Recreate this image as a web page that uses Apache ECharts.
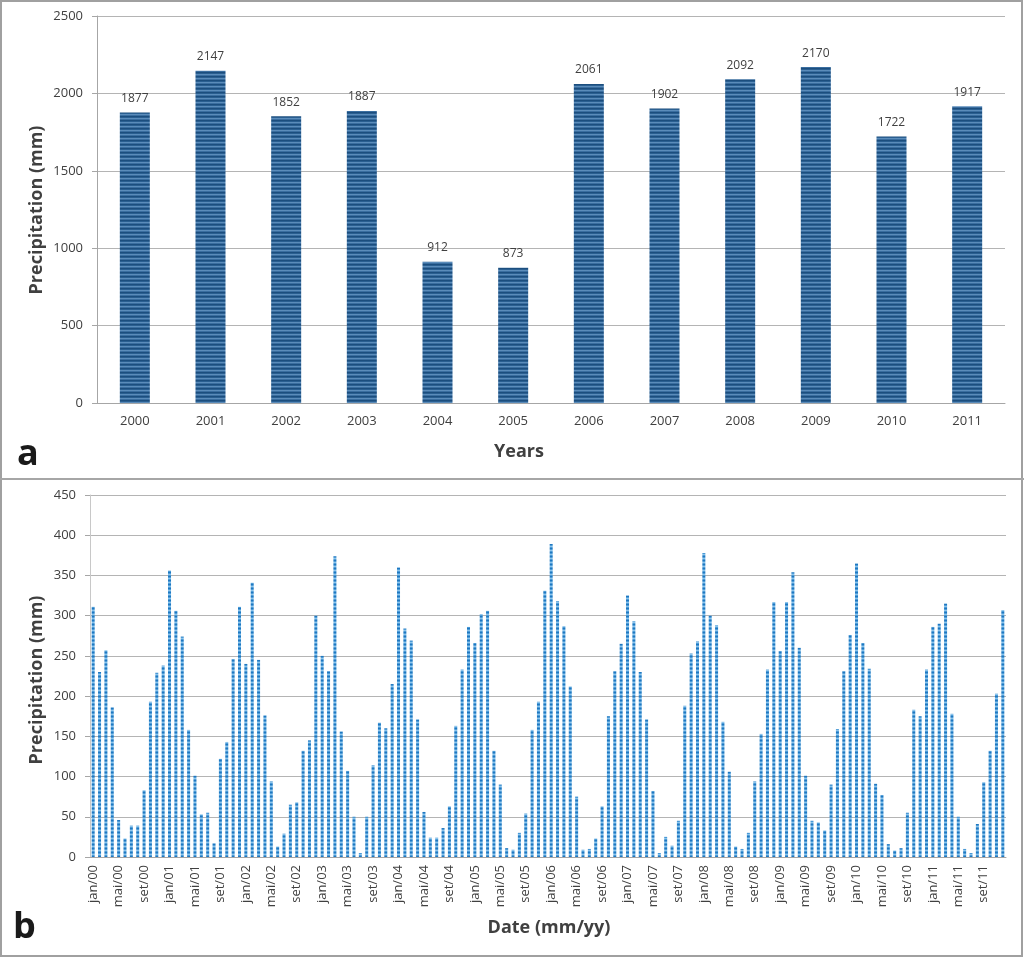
<!DOCTYPE html>
<html>
<head>
<meta charset="utf-8">
<script src="https://cdn.jsdelivr.net/npm/echarts@6/dist/echarts.min.js"></script>
<style>
  html, body { margin: 0; padding: 0; background: #fff; }
  #chart { width: 1024px; height: 958px; }
</style>
</head>
<body>
<div id="chart"></div>
<script>
  // annual totals (a)
  var years = ['2000','2001','2002','2003','2004','2005','2006','2007','2008','2009','2010','2011'];
  var annual = [1877, 2147, 1852, 1887, 912, 873, 2061, 1902, 2092, 2170, 1722, 1917];

  // monthly totals (b), jan/00 .. dez/11
  var monthNames = ['jan','fev','mar','abr','mai','jun','jul','ago','set','out','nov','dez'];
  var m2000 = [311, 230, 257, 186, 46, 23, 39, 39, 83, 193, 229, 238];
  var m2001 = [356, 306, 274, 158, 101, 53, 55, 17, 122, 143, 246, 311];
  var m2002 = [240, 341, 245, 176, 94, 13, 29, 65, 68, 132, 145, 300];
  var m2003 = [250, 231, 374, 156, 107, 50, 5, 50, 114, 167, 160, 215];
  var m2004 = [360, 284, 269, 171, 56, 24, 24, 36, 63, 163, 233, 286];
  var m2005 = [266, 302, 306, 132, 90, 11, 9, 30, 54, 158, 193, 331];
  var m2006 = [389, 318, 287, 212, 75, 9, 10, 23, 63, 175, 231, 265];
  var m2007 = [325, 293, 230, 171, 82, 5, 25, 14, 45, 188, 253, 268];
  var m2008 = [378, 300, 288, 168, 106, 13, 10, 30, 94, 153, 233, 317];
  var m2009 = [256, 317, 354, 260, 101, 45, 43, 33, 90, 159, 231, 276];
  var m2010 = [365, 266, 234, 91, 77, 16, 8, 11, 55, 183, 175, 233];
  var m2011 = [286, 290, 315, 178, 50, 10, 5, 41, 93, 132, 203, 307];

  var yearTicks = ['00','01','02','03','04','05','06','07','08','09','10','11'];
  var monthly = [m2000, m2001, m2002, m2003, m2004, m2005, m2006, m2007, m2008, m2009, m2010, m2011];

  var months = [];
  var monthVals = [];
  for (var i = 0; i < yearTicks.length; i++) {
    for (var j = 0; j < 12; j++) {
      months.push(monthNames[j] + '/' + yearTicks[i]);
      monthVals.push(monthly[i][j]);
    }
  }

  // striped fills
  function stripes(w, h, rows) {
    var c = document.createElement('canvas');
    c.width = w; c.height = h;
    var ctx = c.getContext('2d');
    for (var r = 0; r < rows.length; r++) {
      ctx.fillStyle = rows[r];
      ctx.fillRect(0, r, w, 1);
    }
    return { image: c, repeat: 'repeat' };
  }
  var darkFill = stripes(4, 4, ['#1c4e7e', '#2a5f91', '#5b8cba', '#3a6ea0']);
  var lightFill = stripes(4, 4, ['#1f77c0', '#4a9ad6', '#8cc4ec', '#4a9ad6']);

  var font = 'Open Sans, Noto Sans, sans-serif';
  var gridColor = '#b4b4b4';
  var plain = function (v) { return String(v); };

  var chart = echarts.init(document.getElementById('chart'));
  var option = {
    backgroundColor: '#fff',
    animation: false,
    grid: [
      { left: 97, right: 19, top: 16, height: 387 },
      { left: 90, right: 18, top: 495, height: 362 }
    ],
    xAxis: [{
      gridIndex: 0,
      type: 'category',
      data: years,
      axisLine: { lineStyle: { color: '#a6a6a6' } },
      axisTick: { show: false },
      axisLabel: { color: '#404040', fontSize: 13, fontFamily: font, margin: 12 }
    }, {
      gridIndex: 1,
      type: 'category',
      data: months,
      axisLine: { lineStyle: { color: '#a6a6a6' } },
      axisTick: { show: false },
      axisLabel: { color: '#404040', fontSize: 13, fontFamily: font, rotate: 90, interval: 3, margin: 8 }
    }],
    yAxis: [{
      gridIndex: 0,
      type: 'value',
      min: 0, max: 2500, interval: 500,
      axisLine: { show: true, lineStyle: { color: '#a6a6a6' } },
      axisTick: { show: true, length: 5, lineStyle: { color: '#a6a6a6' } },
      splitLine: { lineStyle: { color: gridColor } },
      axisLabel: { color: '#404040', fontSize: 13, fontFamily: font, margin: 14, formatter: plain }
    }, {
      gridIndex: 1,
      type: 'value',
      min: 0, max: 450, interval: 50,
      axisLine: { show: true, lineStyle: { color: '#c8c8c8' } },
      axisTick: { show: true, length: 5, lineStyle: { color: '#a6a6a6' } },
      splitLine: { lineStyle: { color: gridColor } },
      axisLabel: { color: '#404040', fontSize: 13, fontFamily: font, margin: 14, formatter: plain }
    }],
    series: [{
      type: 'bar',
      xAxisIndex: 0, yAxisIndex: 0,
      data: annual,
      barWidth: 30,
      itemStyle: { color: darkFill },
      label: { show: true, position: 'top', distance: 8, color: '#404040', fontSize: 12, fontFamily: font }
    }, {
      type: 'bar',
      xAxisIndex: 1, yAxisIndex: 1,
      data: monthVals,
      barWidth: 3,
      itemStyle: { color: lightFill }
    }],
    graphic: [
      { type: 'rect', shape: { x: 1, y: 1, width: 1021, height: 955 }, style: { fill: 'none', stroke: '#a0a0a0', lineWidth: 2 } },
      { type: 'rect', shape: { x: 0, y: 478, width: 1024, height: 2 }, style: { fill: '#a6a6a6' } },
      { type: 'text', x: 37, y: 210, rotation: Math.PI / 2, style: { text: 'Precipitation (mm)', font: 'bold 18px ' + font, fill: '#404040', textAlign: 'center', textVerticalAlign: 'middle' } },
      { type: 'text', x: 37, y: 680, rotation: Math.PI / 2, style: { text: 'Precipitation (mm)', font: 'bold 18px ' + font, fill: '#404040', textAlign: 'center', textVerticalAlign: 'middle' } },
      { type: 'text', x: 519, y: 452, style: { text: 'Years', font: 'bold 18px ' + font, fill: '#404040', textAlign: 'center', textVerticalAlign: 'middle' } },
      { type: 'text', x: 549, y: 928, style: { text: 'Date (mm/yy)', font: 'bold 18px ' + font, fill: '#404040', textAlign: 'center', textVerticalAlign: 'middle' } },
      { type: 'text', x: 17, y: 455, style: { text: 'a', font: 'bold 36px ' + font, fill: '#1a1a1a', textVerticalAlign: 'middle' } },
      { type: 'text', x: 13, y: 928, style: { text: 'b', font: 'bold 36px ' + font, fill: '#1a1a1a', textVerticalAlign: 'middle' } }
    ]
  };
  chart.setOption(option);
</script>
</body>
</html>
